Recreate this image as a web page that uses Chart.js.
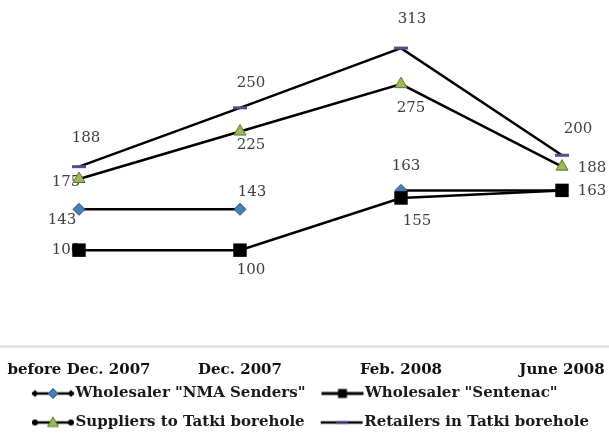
<!DOCTYPE html>
<html>
<head>
<meta charset="utf-8">
<script src="https://cdn.jsdelivr.net/npm/chart.js@4.4.1/dist/chart.umd.min.js"></script>
<style>
  html, body { margin: 0; padding: 0; background: #fff; }
  #wrap { width: 609px; height: 436px; }
</style>
</head>
<body>
<div id="wrap"><canvas id="chart" width="609" height="436"></canvas></div>
<script>
// ======================
// DATA
// ======================
const periods = ["before Dec. 2007", "Dec. 2007", "Feb. 2008", "June 2008"];

const nmaSenders     = [143, 143, 163, 163];
const sentenac       = [100, 100, 155, 163];
const suppliersTatki = [175, 225, 275, 188];
const retailersTatki = [188, 250, 313, 200];

const seriesNames = [
    'Wholesaler "NMA Senders"',
    'Wholesaler "Sentenac"',
    'Suppliers to Tatki borehole',
    'Retailers in Tatki borehole'
];

const yMin = 0;
const yMax = 350;


// ======================
// LABEL PLACEMENT (dx, dy from the point)
// ======================
const nmaLabelAt       = [[-17, 11], [12, -17], [5, -24], null];
const sentenacLabelAt  = [[-13, 0], [11, 20], [16, 23], [30, 1]];
const suppliersLabelAt = [[-13, 3], [11, 14], [10, 24], [30, 1]];
const retailersLabelAt = [[7, -29], [11, -25], [11, -29], [16, -26]];


// ======================
// LEGEND SYMBOLS
// ======================
function diamond(g, x, y, r) {
    g.beginPath();
    g.moveTo(x, y - r);
    g.lineTo(x + r, y);
    g.lineTo(x, y + r);
    g.lineTo(x - r, y);
    g.closePath();
}

function makeSymbol(kind) {
    const c = document.createElement("canvas");
    c.width = 52;
    c.height = 14;
    const g = c.getContext("2d");
    const y = 7, x0 = 9, x1 = 51, xm = 30;

    g.strokeStyle = "#000";
    g.lineWidth = kind === "sentenac" ? 3 : 2.5;
    g.beginPath();
    g.moveTo(x0, y);
    g.lineTo(x1, y);
    g.stroke();

    if (kind === "nma") {
        g.fillStyle = "#000";
        diamond(g, x0 + 3, y, 3.5); g.fill();
        diamond(g, x1 - 3, y, 3.5); g.fill();
        g.fillStyle = "#4a7ebb";
        g.strokeStyle = "#2c4d75";
        g.lineWidth = 1;
        diamond(g, xm, y, 5); g.fill(); g.stroke();
    } else if (kind === "sentenac") {
        g.fillStyle = "#000";
        g.fillRect(xm - 4.5, y - 4.5, 9, 9);
    } else if (kind === "suppliers") {
        g.fillStyle = "#000";
        g.beginPath(); g.arc(x0 + 3, y, 3, 0, Math.PI * 2); g.fill();
        g.beginPath(); g.arc(x1 - 3, y, 3, 0, Math.PI * 2); g.fill();
        g.fillStyle = "#9bbb59";
        g.strokeStyle = "#5a7a2a";
        g.lineWidth = 1;
        g.beginPath();
        g.moveTo(xm, y - 5.5);
        g.lineTo(xm + 5.5, y + 4);
        g.lineTo(xm - 5.5, y + 4);
        g.closePath();
        g.fill(); g.stroke();
    } else {
        g.strokeStyle = "#3d3064";
        g.lineWidth = 2.5;
        g.beginPath(); g.moveTo(xm - 6, y); g.lineTo(xm + 6, y); g.stroke();
    }
    return c;
}

const legendSymbols = [
    makeSymbol("nma"),
    makeSymbol("sentenac"),
    makeSymbol("suppliers"),
    makeSymbol("retailers")
];


// ======================
// PLUGINS
// ======================
// x labels hang a bit lower than the axis box, so let them draw there
const tickRoom = {
    id: "tickRoom",
    afterLayout(chart) {
        chart.scales.x.bottom = chart.height;
    }
};

const baseLine = {
    id: "baseLine",
    beforeDatasetsDraw(chart) {
        const { ctx, chartArea, width } = chart;
        ctx.save();
        ctx.strokeStyle = "#d9d9d9";
        ctx.lineWidth = 2;
        ctx.beginPath();
        ctx.moveTo(0, chartArea.bottom + 1.5);
        ctx.lineTo(width, chartArea.bottom + 1.5);
        ctx.stroke();
        ctx.restore();
    }
};

const valueLabels = {
    id: "valueLabels",
    beforeDatasetsDraw(chart) {
        const ctx = chart.ctx;
        ctx.save();
        ctx.font = '15px "DejaVu Serif"';
        ctx.fillStyle = "#404040";
        ctx.textAlign = "center";
        ctx.textBaseline = "middle";
        chart.data.datasets.forEach((ds, i) => {
            const meta = chart.getDatasetMeta(i);
            meta.data.forEach((pt, j) => {
                const off = ds.labelAt[j];
                if (!off || ds.data[j] == null) return;
                ctx.fillText(String(ds.data[j]), pt.x + off[0], pt.y + off[1]);
            });
        });
        ctx.restore();
    }
};


// ======================
// CHART
// ======================
Chart.defaults.font.family = '"DejaVu Serif", serif';

new Chart(document.getElementById("chart"), {
    type: "line",
    data: {
        labels: periods,
        datasets: [
            {
                label: seriesNames[0],
                data: nmaSenders,
                labelAt: nmaLabelAt,
                order: 1,
                borderColor: "#000",
                borderWidth: 2.5,
                pointStyle: "rectRot",
                pointRadius: 6,
                pointBackgroundColor: "#4a7ebb",
                pointBorderColor: "#2c4d75",
                pointBorderWidth: 1,
                segment: {
                    borderColor: c => c.p0DataIndex === 1 ? "rgba(0,0,0,0)" : undefined
                }
            },
            {
                label: seriesNames[1],
                data: sentenac,
                labelAt: sentenacLabelAt,
                order: 0,
                borderColor: "#000",
                borderWidth: 2.5,
                pointStyle: "rect",
                pointRadius: 9.5,
                pointBackgroundColor: "#000",
                pointBorderColor: "#000",
                pointBorderWidth: 0
            },
            {
                label: seriesNames[2],
                data: suppliersTatki,
                labelAt: suppliersLabelAt,
                order: 2,
                borderColor: "#000",
                borderWidth: 2.5,
                pointStyle: "triangle",
                pointRadius: 7,
                pointBackgroundColor: "#9bbb59",
                pointBorderColor: "#5a7a2a",
                pointBorderWidth: 1
            },
            {
                label: seriesNames[3],
                data: retailersTatki,
                labelAt: retailersLabelAt,
                order: 3,
                borderColor: "#000",
                borderWidth: 2.5,
                pointStyle: "line",
                pointRadius: 7,
                pointBorderColor: "#5d4a8c",
                pointBorderWidth: 3
            }
        ]
    },
    options: {
        responsive: false,
        animation: false,
        clip: false,
        layout: { padding: { top: 13, left: 16, right: 0, bottom: 0 } },
        scales: {
            x: {
                grid: { display: false, drawTicks: false },
                border: { display: false },
                ticks: {
                    padding: 16,
                    color: "#111",
                    autoSkip: false,
                    maxRotation: 0,
                    font: { size: 15, weight: "bold" }
                },
                afterFit: s => {
                    s.height = 27;
                    s.paddingLeft = 40;
                    s.paddingRight = 40;
                }
            },
            y: {
                min: yMin,
                max: yMax,
                display: true,
                grid: { display: false },
                border: { display: false },
                ticks: { display: false },
                afterFit: s => { s.width = 63; }
            },
            yRight: {
                position: "right",
                min: yMin,
                max: yMax,
                display: true,
                grid: { display: false },
                border: { display: false },
                ticks: { display: false },
                afterFit: s => { s.width = 47; }
            }
        },
        plugins: {
            tooltip: { enabled: false },
            legend: {
                position: "bottom",
                align: "start",
                maxHeight: 64,
                labels: {
                    usePointStyle: true,
                    pointStyleWidth: 38,
                    padding: 14,
                    color: "#1a1a1a",
                    font: { size: 15, weight: "bold" },
                    sort: (a, b) => a.datasetIndex - b.datasetIndex,
                    generateLabels(chart) {
                        const items = Chart.defaults.plugins.legend.labels.generateLabels(chart);
                        items.forEach(it => { it.pointStyle = legendSymbols[it.datasetIndex]; });
                        return items;
                    }
                }
            }
        }
    },
    plugins: [tickRoom, baseLine, valueLabels]
});
</script>
</body>
</html>
